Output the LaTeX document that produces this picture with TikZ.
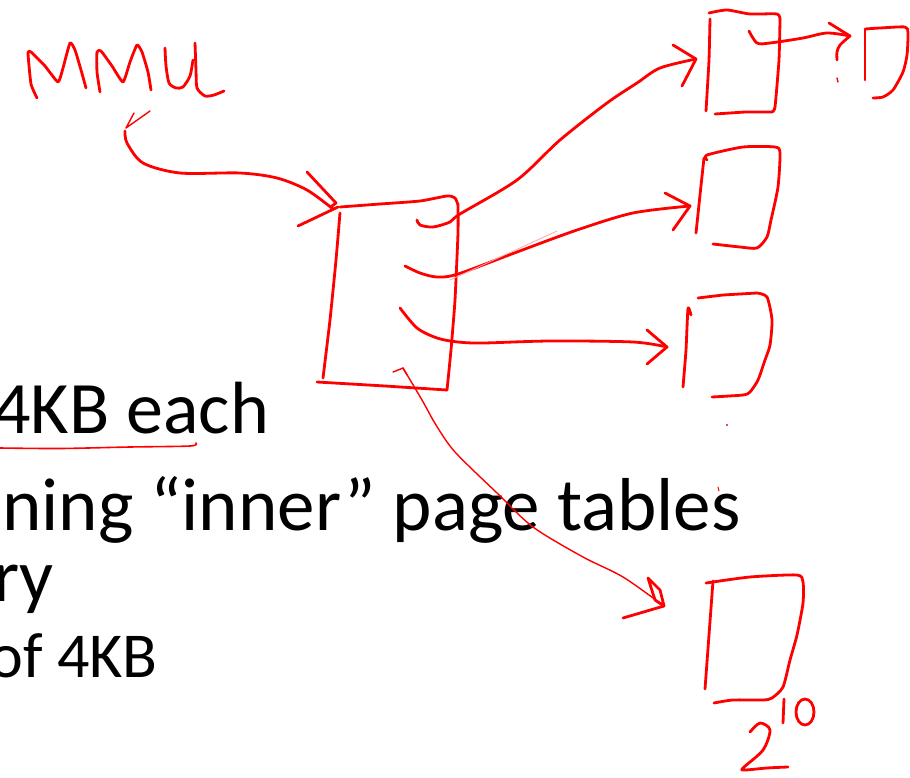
\documentclass[tikz,border=0pt]{standalone}
\usepackage{fontspec}
\setmainfont{Carlito}
\begin{document}
\begin{tikzpicture}[x=1pt, y=-1pt,
  ink/.style={draw=red, line width=2.8pt, line cap=round, line join=round},
  fine/.style={draw=red, line width=1.4pt, line cap=round, line join=round},
  faint/.style={draw=red!35, line width=0.8pt, line cap=round},
  slide/.style={anchor=base east, inner sep=0pt, text=black},
  big/.style={slide, font=\fontsize{74}{74}\selectfont},
  bigger/.style={slide, font=\fontsize{75}{75}\selectfont},
  subslide/.style={slide, font=\fontsize{64}{64}\selectfont}]
\useasboundingbox (0,0) rectangle (910,778);
\clip (0,0) rectangle (910,778);

% slide text, right-aligned at the visible line ends
\node[big]      (l1) at (269,433) {4KB each};
\node[bigger]   (l2) at (741,530) {ining “inner” page tables};
\node[bigger]   (l3) at (54,601)  {ry};
\node[subslide] (l4) at (158,677) {of 4KB};

% underline
\draw[fine, line width=1.6pt] plot[smooth] coordinates {(0,448) (60,448.5) (130,447) (190,446) (196,443)};

% MMU handwriting
\draw[ink] plot[smooth, tension=0.3] coordinates {(37,98) (31,84) (28,53) (31,52) (45,66) (58,82) (63,68) (70,43) (75,50) (81,70) (86,88)};
\draw[ink] plot[smooth, tension=0.3] coordinates {(100,92) (97,72) (97,52) (101,51) (112,66) (123,82) (130,62) (137,45) (142,52) (148,72) (151,90)};
\draw[ink] plot[smooth, tension=0.4] coordinates {(165,48) (166,66) (169,83) (176,88) (183,87) (190,76) (193,60)};
\draw[ink] plot[smooth, tension=0.4] coordinates {(195,43) (196,70) (197,88) (205,96) (214,95) (224,91)};

% named points of the sketch
\coordinate (mmuTip)  at (126,128);
\coordinate (rootTL)  at (338,207);
\coordinate (tipA)    at (696,59);
\coordinate (tipC)    at (690,206);
\coordinate (tipD)    at (667,347);
\coordinate (tipE)    at (664,606);
\coordinate (tipB)    at (850,36);

% arrow from MMU to the outer table
\draw[fine] (150,111) -- (mmuTip) -- (134,113);
\draw[ink] plot[smooth, tension=0.5] coordinates {(125,131) (127,143) (143,163) (180,173) (240,173) (277,178) (307,190) (333,209)};
\draw[ink] (307,172) -- (336,203) -- (332,206);
\draw[ink] (298,226) -- (rootTL);

% outer page table
\draw[ink] plot[smooth, tension=0.4] coordinates {(340,207) (380,204) (420,201) (447,196) (455,198) (458,205)};
\draw[ink] plot[smooth, tension=0.3] coordinates {(458,205) (458,233) (455,300) (451,350) (447,390)};
\draw[ink] (447,390) -- (385,386) -- (317,382);
\draw[ink] plot[smooth, tension=0.3] coordinates {(340,213) (336,260) (330,320) (323,378)};

% entries pointing to inner tables
\draw[ink] plot[smooth, tension=0.5] coordinates {(417,220) (420,225) (433,227) (450,222) (460,214) (517,180) (560,140) (607,103) (637,83) (660,68) (tipA)};
\draw[ink] (673,45) -- (tipA) -- (682,86);

\draw[ink] plot[smooth, tension=0.5] coordinates {(405,266) (420,273) (437,277) (458,274) (517,252) (577,230) (633,213) (tipC)};
\draw[ink] (665,193) -- (tipC) -- (673,230);
\draw[faint] (450,280) -- (557,231);

\draw[ink] plot[smooth, tension=0.5] coordinates {(400,308) (417,328) (437,338) (458,342) (483,343) (550,341) (633,342) (tipD)};
\draw[ink] (647,330) -- (tipD) -- (647,364);

\draw[fine] (393,372) -- (403,368) -- (407,375);
\draw[fine] plot[smooth, tension=0.5] coordinates {(403,368) (422,400) (436,425) (455,452) (497,493) (533,527) (583,557) (623,577) (tipE)};
\draw[ink] (648,578) -- (655,600) -- (tipE) -- (660,590) -- cycle;
\draw[ink] (623,618) -- (tipE);

% inner table at the top, with its entry
\draw[ink] plot[smooth, tension=0.3] coordinates {(710,19) (709,60) (706,111)};
\draw[ink] plot[smooth, tension=0.4] coordinates {(709,13) (727,10) (750,14) (777,14) (780,20)};
\draw[ink] plot[smooth, tension=0.3] coordinates {(780,20) (779,60) (775,107) (772,112)};
\draw[ink] (715,114) -- (745,112) -- (772,112);
\draw[ink] plot[smooth, tension=0.5] coordinates {(749,31) (757,43) (770,43) (803,38) (827,33) (tipB)};
\draw[ink] (829,23) -- (tipB);
\draw[ink] plot[smooth, tension=0.5] coordinates {(tipB) (840,45) (837,52) (837,60)};
\draw[fine] (837,78) -- (838,82);

% page at the far right
\draw[ink] (865,30) -- (865,80);
\draw[ink] plot[smooth, tension=0.4] coordinates {(865,29) (880,28) (905,27) (908,33) (907,55) (903,72) (893,90) (883,97) (873,98)};

% inner table in the middle
\draw[ink] plot[smooth, tension=0.3] coordinates {(704,158) (700,195) (696,233)};
\draw[ink] plot[smooth, tension=0.4] coordinates {(707,160) (707,155) (743,147) (775,147) (780,153) (778,187) (771,220) (767,237) (757,248) (740,247) (713,244)};

% inner table below
\draw[ink] (698,298) -- (723,295) -- (757,293);
\draw[ink] plot[smooth, tension=0.4] coordinates {(757,293) (767,297) (772,320) (770,345) (765,360) (758,380) (750,392) (743,395) (712,397)};
\draw[ink] plot[smooth, tension=0.3] coordinates {(691,315) (688,308) (686,350) (683,387)};

% stray marks
\fill[red] (727,425) circle (1.2);
\draw[fine, line width=1pt] (718,487) -- (719,491);

% last inner table
\draw[ink] (713,581) -- (705,689);
\draw[ink] plot[smooth, tension=0.4] coordinates {(706,583) (750,577) (797,575) (803,582) (803,603) (797,635) (790,660) (783,687) (772,698) (763,700) (733,700) (714,703)};

% 2^10
\draw[ink] plot[smooth, tension=0.5] coordinates {(750,732) (760,723) (770,730) (763,750) (743,768) (745,770) (767,768) (788,767)};
\draw[ink] (784,699) -- (783,723);
\draw[ink] (805,712) ellipse [x radius=9, y radius=13];

\end{tikzpicture}
\end{document}
